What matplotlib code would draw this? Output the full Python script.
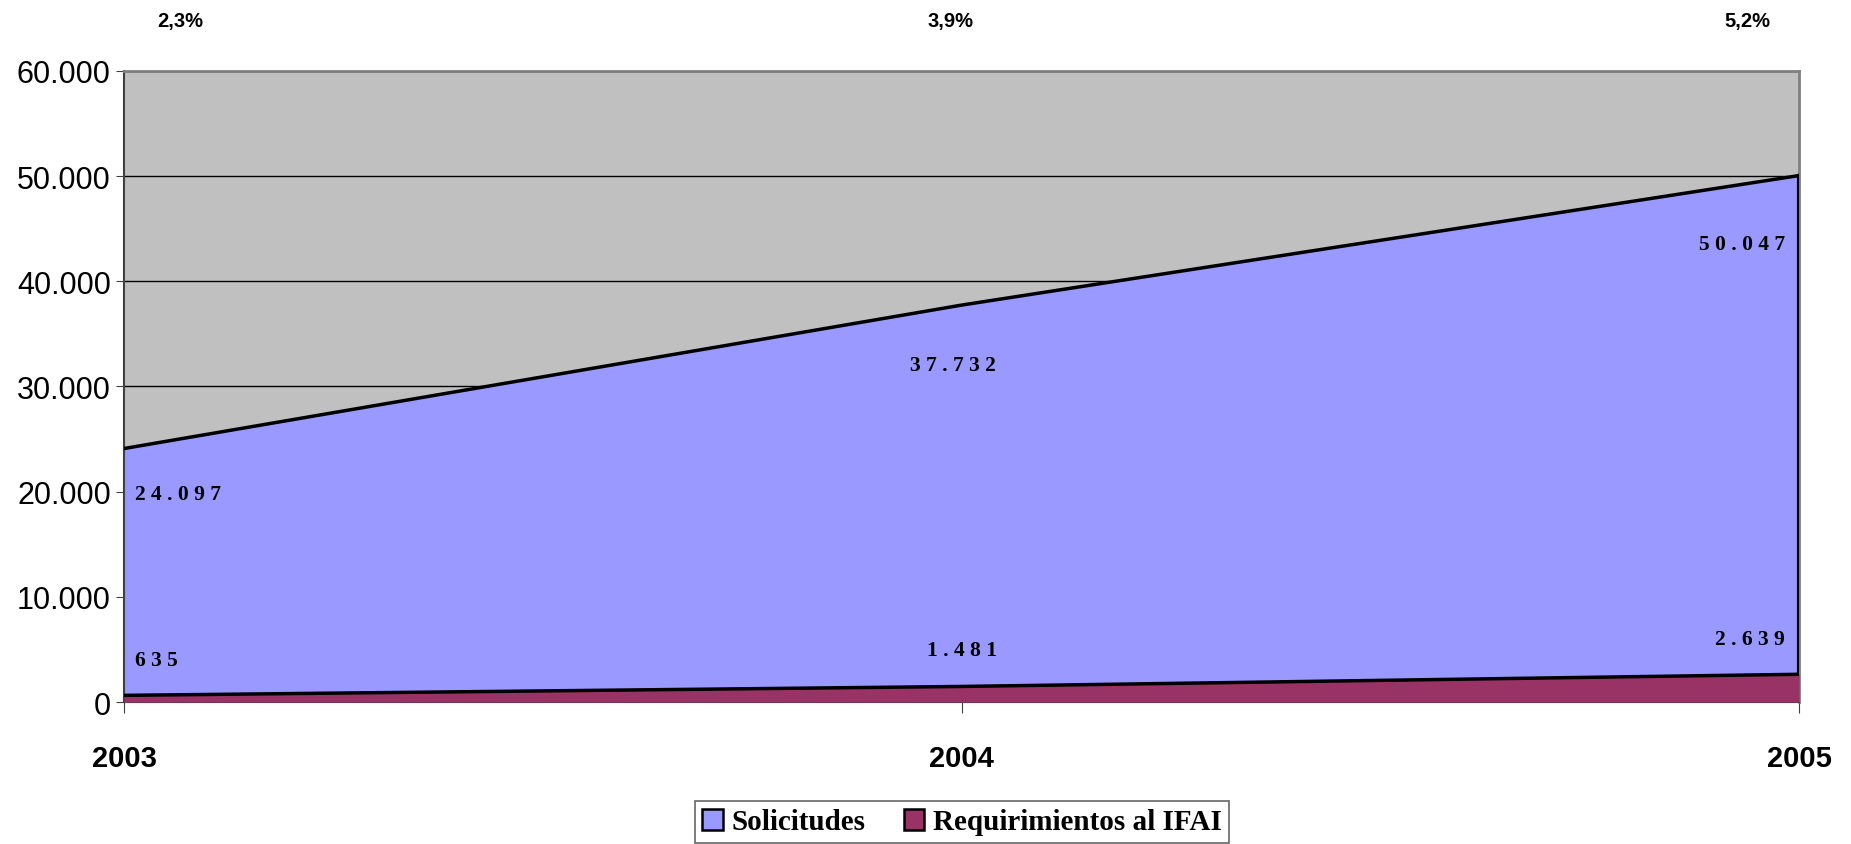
import matplotlib
matplotlib.use("Agg")
import matplotlib.pyplot as plt
from matplotlib.patches import Patch
from matplotlib.ticker import FuncFormatter

years = ["2003", "2004", "2005"]
solicitudes = [24097, 37732, 50047]
requerimientos = [635, 1481, 2639]
pct_labels = ["2,3%", "3,9%", "5,2%"]
sol_labels = ["24.097", "37.732", "50.047"]
req_labels = ["635", "1.481", "2.639"]
series_names = ["Solicitudes", "Requirimientos al IFAI"]


def spaced(s):
    return " ".join(s)


fig = plt.figure(figsize=(18.51, 8.45), dpi=100)
ax = fig.add_axes([0.067, 0.168, 0.905, 0.747])
x = list(range(len(years)))

ax.set_facecolor("#C0C0C0")
ax.set_xlim(0, 2)
ax.set_ylim(0, 60000)
ax.set_yticks(range(0, 60001, 10000))
ax.yaxis.set_major_formatter(FuncFormatter(lambda v, p: f"{int(v):,}".replace(",", ".")))
ax.grid(axis="y", color="black", linewidth=1.0, zorder=0)
ax.set_axisbelow(True)

ax.fill_between(x, 0, solicitudes, color="#9999FF", zorder=2, linewidth=0)
ax.plot(x, solicitudes, color="black", linewidth=2.5, zorder=3)
ax.plot([x[-1], x[-1]], [0, solicitudes[-1]], color="black", linewidth=3, zorder=3)
ax.fill_between(x, 0, requerimientos, color="#993366", zorder=4, linewidth=0)
ax.plot(x, requerimientos, color="black", linewidth=2.5, zorder=5)

ax.set_xticks(x)
ax.set_xticklabels(years, fontsize=21, fontweight="bold", family="Liberation Sans")
ax.tick_params(axis="x", length=8, pad=22, color="#404040")
ax.tick_params(axis="y", length=6, labelsize=22, color="#404040")
for lab in ax.get_yticklabels():
    lab.set_family("Liberation Sans")

for s in ["top", "right"]:
    ax.spines[s].set_color("#808080")
    ax.spines[s].set_linewidth(2)
ax.spines["left"].set_color("#404040")
ax.spines["left"].set_linewidth(1.5)
ax.spines["bottom"].set_color("#404040")

lab_font = dict(family="Liberation Serif", fontweight="bold", fontsize=15.5, color="black", zorder=6)
# Solicitudes labels
ax.text(0.013, solicitudes[0] - 4300, spaced(sol_labels[0]), ha="left", va="center", **lab_font)
ax.text(0.99, solicitudes[1] - 5700, spaced(sol_labels[1]), ha="center", va="center", **lab_font)
ax.text(1.983, solicitudes[2] - 6500, spaced(sol_labels[2]), ha="right", va="center", **lab_font)
# Requerimientos labels
ax.text(0.013, requerimientos[0] + 3400, spaced(req_labels[0]), ha="left", va="center", **lab_font)
ax.text(1.0, requerimientos[1] + 3500, spaced(req_labels[1]), ha="center", va="center", **lab_font)
ax.text(1.983, requerimientos[2] + 3400, spaced(req_labels[2]), ha="right", va="center", **lab_font)

# Percent labels at top
pct_x = [180 / 1851, 950 / 1851, 1747 / 1851]
for px, t in zip(pct_x, pct_labels):
    fig.text(px, 1 - 21 / 845, t, ha="center", va="center", fontsize=14.5,
             fontweight="bold", family="Liberation Sans")

handles = [Patch(facecolor="#9999FF", edgecolor="black", linewidth=1.8, label=series_names[0]),
           Patch(facecolor="#993366", edgecolor="black", linewidth=1.8, label=series_names[1])]
leg = fig.legend(handles=handles, loc="center", bbox_to_anchor=(962 / 1851, 1 - 823 / 845),
                 ncol=2, frameon=True, fancybox=False, edgecolor="#404040",
                 prop=dict(family="Liberation Serif", weight="bold", size=21),
                 handlelength=0.7, handleheight=0.7, handletextpad=0.3, columnspacing=1.3,
                 borderpad=0.25, borderaxespad=0)
leg.get_frame().set_linewidth(1.2)

fig.savefig("out.png", dpi=100)
